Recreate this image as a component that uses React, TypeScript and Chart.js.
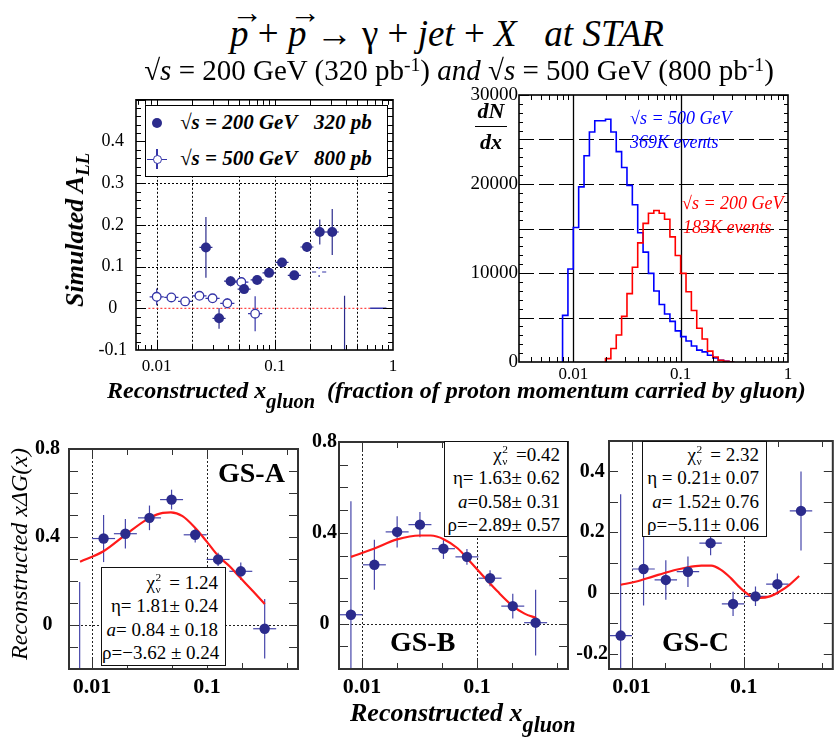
import React, { useEffect, useRef } from 'react';
import { Chart, registerables } from 'chart.js';

Chart.register(...registerables);

const SERIF = '"Liberation Serif", "Times New Roman", Times, serif';
const NAVY = '#2b2b8c';
const ERRC = '#4646aa';
const RED = '#ff1a1a';

// ---------- Top-left: simulated A_LL vs reconstructed x_gluon ----------
const ALL200_X = [0.0261, 0.0337, 0.0422, 0.0549, 0.0708, 0.0893, 0.115, 0.146, 0.187, 0.24, 0.306, 0.389];
const ALL200_Y = [0.146, -0.024, 0.065, 0.046, 0.068, 0.085, 0.11, 0.079, 0.147, 0.183, 0.183, -0.17];
const ALL200_ERR = [0.073, 0.025, 0.012, 0.01, 0.01, 0.01, 0.01, 0.01, 0.012, 0.03, 0.055, 0.2];
const ALL500_X = [0.01, 0.0133, 0.0174, 0.023, 0.0297, 0.0396, 0.052, 0.0681];
const ALL500_Y = [0.0276, 0.026, 0.0165, 0.03, 0.024, 0.012, 0.063, -0.013];
const ALL500_ERR = [0.02, 0.01, 0.01, 0.01, 0.01, 0.012, 0.012, 0.042];
const ALL500_NOMARK_X = [0.237];
const ALL500_NOMARK_Y = [0.087];
const ALL500_NOMARK_ERR = [0.012];
const ALL_ZERO_X = [0.0085, 0.64];
const ALL_TAIL_X = [0.64, 0.88];
const ALL_X_LABELS = [0.01, 0.1, 1];
const ALL_Y_LABELS = [-0.1, 0, 0.1, 0.2, 0.3, 0.4];

// ---------- Top-right: dN/dx histograms ----------
const HIST500_START = -2.1; // log10 of the first bin's low edge
const HIST200_START = -1.7;
const HIST_BIN = 0.05; // bin width in log10(x)
const HIST500 = [570, 5240, 10450, 15120, 19680, 23180, 25840, 27100, 27100, 27280, 25840, 23640, 21850, 19840, 17670, 14520, 12350, 9960, 7980, 6460, 5400, 4560, 3500, 2850, 2360, 1790, 1330, 1140, 760, 460, 190, 80];
const HIST200 = [80, 380, 1520, 3040, 5130, 7680, 10640, 13380, 15580, 16720, 17020, 16720, 16040, 14060, 11970, 9960, 7900, 5780, 3800, 2580, 1220, 570, 190, 80];
const HIST_X_LABELS = [0.01, 0.1, 1];
const HIST_Y_LABELS = [0, 10000, 20000, 30000];

// ---------- Bottom: reconstructed x*DeltaG(x) ----------
const GSA_X = [0.0078, 0.0126, 0.0195, 0.0316, 0.0492, 0.079, 0.125, 0.197, 0.318];
const GSA_Y = [-0.5, 0.393, 0.415, 0.487, 0.57, 0.41, 0.298, 0.244, -0.017];
const GSA_ERR = [0.696, 0.107, 0.067, 0.056, 0.045, 0.035, 0.03, 0.04, 0.135];
const GSA_FIT_X = [0.00786, 0.01256, 0.01954, 0.0316, 0.0413, 0.0485, 0.0613, 0.0795, 0.1, 0.126, 0.159, 0.1927, 0.2518, 0.3185];
const GSA_FIT_Y = [0.288, 0.335, 0.41, 0.487, 0.51, 0.512, 0.495, 0.44, 0.378, 0.313, 0.265, 0.218, 0.153, 0.095];

const GSB_X = [0.008, 0.0128, 0.0202, 0.0319, 0.0511, 0.0818, 0.13, 0.205, 0.324];
const GSB_Y = [0.039, 0.259, 0.404, 0.436, 0.33, 0.294, 0.2, 0.077, 0.004];
const GSB_ERR = [0.5, 0.11, 0.069, 0.056, 0.045, 0.035, 0.035, 0.055, 0.145];
const GSB_FIT_X = [0.00801, 0.01265, 0.0202, 0.0319, 0.0396, 0.0518, 0.0678, 0.0886, 0.1159, 0.1516, 0.1983, 0.2594, 0.328];
const GSB_FIT_Y = [0.294, 0.33, 0.371, 0.388, 0.388, 0.371, 0.332, 0.269, 0.204, 0.141, 0.084, 0.044, 0.025];

const GSC_X = [0.008, 0.0128, 0.0202, 0.0318, 0.0506, 0.0802, 0.127, 0.199, 0.323];
const GSC_Y = [-0.14, 0.079, 0.043, 0.07, 0.164, -0.036, -0.011, 0.029, 0.27];
const GSC_ERR = [0.465, 0.12, 0.065, 0.05, 0.04, 0.04, 0.032, 0.035, 0.13];
const GSC_FIT_X = [0.00802, 0.01105, 0.01543, 0.02154, 0.0301, 0.042, 0.0513, 0.0627, 0.0766, 0.0935, 0.1143, 0.1396, 0.1706, 0.2084, 0.2546, 0.311];
const GSC_FIT_Y = [0.027, 0.038, 0.054, 0.07, 0.083, 0.09, 0.09, 0.076, 0.049, 0.016, -0.009, -0.016, -0.011, 0.005, 0.027, 0.056];

const GS_X_LABELS = [0.01, 0.1];
const GSAB_Y_LABELS = [0, 0.4, 0.8];
const GSC_Y_LABELS = [-0.2, 0, 0.2, 0.4];

// ---------- helpers ----------
const pts = (xs: number[], ys: number[]) => xs.map((x, i) => ({ x, y: ys[i] }));

function logTicks(min: number, max: number, major: number, minor: number, mults: number[]) {
  const out: number[][] = [];
  for (let e = -4; e <= 1; e++) {
    for (let m = 1; m <= 9; m++) {
      const v = m * Math.pow(10, e);
      if (v < min * 0.999 || v > max * 1.001) continue;
      if (m === 1) out.push([v, major]);
      else if (mults.includes(m)) out.push([v, minor]);
    }
  }
  return out;
}
function linTicks(min: number, max: number, step: number, majorEvery: number, major: number, minor: number, midEvery = 0, mid = 0) {
  const out: number[][] = [];
  const n0 = Math.ceil(min / step - 1e-6);
  const n1 = Math.floor(max / step + 1e-6);
  for (let n = n0; n <= n1; n++) {
    const v = n * step;
    let len = minor;
    if (n % majorEvery === 0) len = major;
    else if (midEvery && n % midEvery === 0) len = mid;
    out.push([v, len]);
  }
  return out;
}

const rootFrame = {
  id: 'rootFrame',
  beforeDatasetsDraw(chart: any, _a: any, o: any) {
    const { ctx, chartArea: a } = chart;
    const xs = chart.scales.x;
    const ys = chart.scales.y;
    const seg = (x1: number, y1: number, x2: number, y2: number) => {
      ctx.beginPath();
      ctx.moveTo(x1, y1);
      ctx.lineTo(x2, y2);
      ctx.stroke();
    };
    ctx.save();
    ctx.beginPath();
    ctx.rect(a.left, a.top, a.right - a.left, a.bottom - a.top);
    ctx.clip();
    (o.grid || []).forEach((g: any) => {
      ctx.strokeStyle = g.color;
      ctx.lineWidth = g.width;
      ctx.setLineDash(g.dash || []);
      (g.x || []).forEach((v: number) => {
        const p = Math.round(xs.getPixelForValue(v)) + 0.5;
        seg(p, a.top, p, a.bottom);
      });
      (g.y || []).forEach((v: number) => {
        const p = Math.round(ys.getPixelForValue(v)) + 0.5;
        seg(a.left, p, a.right, p);
      });
    });
    ctx.setLineDash([]);
    chart.data.datasets.forEach((ds: any) => {
      if (!ds.yErr) return;
      ctx.strokeStyle = ds.errColor;
      ctx.lineWidth = ds.errWidth || 1.2;
      const gap = ds.errGap || 0;
      const f = Math.pow(10, ds.xErrDec || 0);
      ds.data.forEach((p: any, j: number) => {
        const cx = xs.getPixelForValue(p.x);
        const cy = ys.getPixelForValue(p.y);
        const t = ys.getPixelForValue(p.y + ds.yErr[j]);
        const b = ys.getPixelForValue(p.y - ds.yErr[j]);
        const l = xs.getPixelForValue(p.x / f);
        const r = xs.getPixelForValue(p.x * f);
        if (t < cy - gap) seg(cx, t, cx, cy - gap);
        if (b > cy + gap) seg(cx, cy + gap, cx, b);
        if (l < cx - gap) seg(l, cy, cx - gap, cy);
        if (r > cx + gap) seg(cx + gap, cy, r, cy);
      });
    });
    ctx.restore();
  },
  afterDraw(chart: any, _a: any, o: any) {
    const { ctx, chartArea: a } = chart;
    const xs = chart.scales.x;
    const ys = chart.scales.y;
    const seg = (x1: number, y1: number, x2: number, y2: number) => {
      ctx.beginPath();
      ctx.moveTo(x1, y1);
      ctx.lineTo(x2, y2);
      ctx.stroke();
    };
    ctx.save();
    ctx.strokeStyle = o.color || '#000';
    ctx.lineWidth = o.tickWidth || 1;
    (o.xTicks || []).forEach(([v, len]: number[]) => {
      const p = Math.round(xs.getPixelForValue(v)) + 0.5;
      if (p < a.left || p > a.right) return;
      seg(p, a.bottom, p, a.bottom - len);
      seg(p, a.top, p, a.top + len);
    });
    (o.yTicks || []).forEach(([v, len]: number[]) => {
      const p = Math.round(ys.getPixelForValue(v)) + 0.5;
      if (p < a.top || p > a.bottom) return;
      seg(a.left, p, a.left + len, p);
      seg(a.right, p, a.right - len, p);
    });
    ctx.lineWidth = o.frameWidth || 1.5;
    ctx.strokeRect(a.left, a.top, a.right - a.left, a.bottom - a.top);
    ctx.restore();
  },
};

function baseOptions(c: any) {
  return {
    responsive: false,
    maintainAspectRatio: false,
    animation: false,
    events: [],
    layout: { padding: { top: c.padTop, right: c.padRight, left: 0, bottom: 0 } },
    plugins: { legend: { display: false }, tooltip: { enabled: false }, rootFrame: c.frame },
    scales: {
      x: {
        type: 'logarithmic',
        bounds: 'data',
        min: c.xMin,
        max: c.xMax,
        grid: { display: false, drawTicks: false },
        border: { display: false },
        afterBuildTicks: (s: any) => {
          s.ticks = c.xLabels.map((v: number) => ({ value: v }));
        },
        ticks: {
          autoSkip: false,
          maxRotation: 0,
          padding: c.xPad,
          color: '#000',
          font: c.xFont,
          callback: (v: any) => String(v),
        },
        afterFit: (s: any) => {
          s.height = c.xAxisH;
        },
      },
      y: {
        type: 'linear',
        bounds: 'data',
        min: c.yMin,
        max: c.yMax,
        grid: { display: false, drawTicks: false },
        border: { display: false },
        afterBuildTicks: (s: any) => {
          s.ticks = c.yLabels.map((v: number) => ({ value: v }));
        },
        ticks: {
          autoSkip: false,
          padding: c.yPad,
          color: '#000',
          font: c.yFont,
          crossAlign: c.yAlign || 'near',
          callback: (v: any) => String(v),
        },
        afterFit: (s: any) => {
          s.width = c.yAxisW;
        },
      },
    },
  };
}

function errDS(xs: number[], ys: number[], errs: number[], extra: any) {
  return {
    type: 'scatter',
    data: pts(xs, ys),
    yErr: errs,
    errColor: ERRC,
    showLine: false,
    pointStyle: 'circle',
    ...extra,
  };
}

function histDS(start: number, counts: number[], color: string) {
  const edge = (i: number) => Math.pow(10, start + i * HIST_BIN);
  const data = [{ x: edge(0), y: 0 }, ...counts.map((c, i) => ({ x: edge(i), y: c })), { x: edge(counts.length), y: 0 }];
  return { type: 'line', data, stepped: 'after', borderColor: color, borderWidth: 1.6, pointRadius: 0, fill: false };
}

function fitDS(xs: number[], ys: number[]) {
  return {
    type: 'line',
    data: pts(xs, ys),
    borderColor: RED,
    borderWidth: 2.2,
    pointRadius: 0,
    cubicInterpolationMode: 'monotone',
    fill: false,
  };
}

function allConfig() {
  return {
    type: 'scatter',
    data: {
      datasets: [
        errDS(ALL200_X, ALL200_Y, ALL200_ERR, {
          xErrDec: 0.055, pointRadius: 5, backgroundColor: NAVY, borderColor: NAVY, borderWidth: 0, errColor: NAVY,
        }),
        errDS(ALL500_X, ALL500_Y, ALL500_ERR, {
          xErrDec: 0.06, pointRadius: 4.3, backgroundColor: '#ffffff', borderColor: '#3535a8', borderWidth: 1.3, errGap: 4.3, errColor: '#3535a8',
        }),
        errDS(ALL500_NOMARK_X, ALL500_NOMARK_Y, ALL500_NOMARK_ERR, {
          xErrDec: 0.06, pointRadius: 0, errGap: 3, errColor: '#3535a8',
        }),
        { type: 'line', data: pts(ALL_TAIL_X, [0, 0]), borderColor: '#3535a8', borderWidth: 1.5, pointRadius: 0 },
        { type: 'line', data: pts(ALL_ZERO_X, [0, 0]), borderColor: RED, borderWidth: 1, borderDash: [2, 2], pointRadius: 0 },
      ],
    },
    options: baseOptions({
      padTop: 15, padRight: 12, xAxisH: 35, yAxisW: 86,
      xMin: 0.00668, xMax: 1, yMin: -0.1, yMax: 0.5,
      xLabels: ALL_X_LABELS, yLabels: ALL_Y_LABELS,
      xPad: 6, yPad: 9, yAlign: 'center',
      xFont: { family: SERIF, size: 17 }, yFont: { family: SERIF, size: 18 },
      frame: {
        grid: [{ x: [0.01, 0.02, 0.05, 0.1, 0.2, 0.5], y: [0.1, 0.2, 0.3, 0.4], color: '#000', width: 1, dash: [2, 2] }],
        xTicks: logTicks(0.00668, 1, 10, 5, [2, 3, 4, 5, 6, 7, 8, 9]),
        yTicks: linTicks(-0.1, 0.5, 0.02, 5, 10, 5),
        frameWidth: 1.6,
      },
    }),
    plugins: [rootFrame],
  };
}

function histConfig() {
  return {
    type: 'scatter',
    data: {
      datasets: [histDS(HIST200_START, HIST200, '#ff0000'), histDS(HIST500_START, HIST500, '#0000ff')],
    },
    options: baseOptions({
      padTop: 15, padRight: 12, xAxisH: 23, yAxisW: 79,
      xMin: 0.00312, xMax: 1, yMin: 0, yMax: 30000,
      xLabels: HIST_X_LABELS, yLabels: HIST_Y_LABELS,
      xPad: 2, yPad: 1, yAlign: 'near',
      xFont: { family: SERIF, size: 17 }, yFont: { family: SERIF, size: 19 },
      frame: {
        grid: [
          { x: [0.01, 0.1], color: '#000', width: 1.3, dash: [] },
          { y: [5000, 10000, 15000, 20000, 25000], color: '#000', width: 1, dash: [15, 5] },
        ],
        xTicks: logTicks(0.00312, 1, 10, 5, [2, 3, 4, 5, 6, 7, 8, 9]),
        yTicks: linTicks(0, 30000, 1000, 10, 10, 4, 5, 7),
        frameWidth: 1.6,
      },
    }),
    plugins: [rootFrame],
  };
}

function gsConfig(xs: number[], ys: number[], es: number[], fx: number[], fy: number[], yMin: number, yMax: number, yLabels: number[], yPad: number, padRight: number) {
  return {
    type: 'scatter',
    data: {
      datasets: [
        errDS(xs, ys, es, { xErrDec: 0.1, pointRadius: 5.2, backgroundColor: NAVY, borderColor: NAVY, borderWidth: 0 }),
        fitDS(fx, fy),
      ],
    },
    options: baseOptions({
      padTop: 13, padRight, xAxisH: 36, yAxisW: 49,
      xMin: 0.0063, xMax: 0.62, yMin, yMax,
      xLabels: GS_X_LABELS, yLabels,
      xPad: 5, yPad, yAlign: 'center',
      xFont: { family: SERIF, size: 22, weight: 'bold' }, yFont: { family: SERIF, size: 20, weight: 'bold' },
      frame: {
        grid: [{ x: [0.01, 0.1], y: [0], color: '#222', width: 1, dash: [2, 2] }],
        xTicks: logTicks(0.0063, 0.62, 10, 6, [2, 5]),
        yTicks: linTicks(yMin, yMax, 0.1, 100, 9, 9),
        frameWidth: 2,
        color: '#333',
      },
    }),
    plugins: [rootFrame],
  };
}

function ChartCanvas({ left, top, width, height, build }: any) {
  const ref = useRef<HTMLCanvasElement>(null);
  useEffect(() => {
    const chart = new Chart(ref.current as any, build() as any);
    return () => chart.destroy();
  }, []);
  return <canvas ref={ref} width={width} height={height} style={{ position: 'absolute', left, top, width, height }} />;
}

// text placed by its baseline
function T({ x, y, size, children, anchor = 'start', style = {} }: any) {
  const tx = anchor === 'middle' ? 'translateX(-50%)' : anchor === 'end' ? 'translateX(-100%)' : undefined;
  return (
    <div style={{ position: 'absolute', left: x, top: y - 0.8375 * size, fontSize: size, lineHeight: `${size}px`, whiteSpace: 'nowrap', transform: tx, ...style }}>
      {children}
    </div>
  );
}
// text rotated -90deg around the centre of its box
function R({ cx, cy, size, children, style = {} }: any) {
  return (
    <div style={{ position: 'absolute', left: cx, top: cy, fontSize: size, lineHeight: `${size}px`, whiteSpace: 'nowrap', transform: 'translate(-50%, -50%) rotate(-90deg)', ...style }}>
      {children}
    </div>
  );
}
const Sup = ({ children }: any) => <span style={{ position: 'relative', top: '-0.45em', fontSize: '0.68em' }}>{children}</span>;
const Sub = ({ children, d = '0.4em', s = '0.75em' }: any) => <span style={{ position: 'relative', top: d, fontSize: s }}>{children}</span>;
const Vec = ({ children }: any) => (
  <span style={{ position: 'relative', fontStyle: 'italic' }}>
    {children}
    <span style={{ position: 'absolute', left: '0.05em', top: '-0.62em', fontStyle: 'normal', fontSize: '0.85em' }}>→</span>
  </span>
);
const Chi = () => (
  <span>
    χ
    <span style={{ position: 'relative' }}>
      <span style={{ position: 'absolute', left: '0.05em', top: '-0.5em', fontSize: '0.6em' }}>2</span>
      <span style={{ position: 'absolute', left: '0.05em', top: '0.55em', fontSize: '0.6em' }}>ν</span>
      {'\u00a0\u00a0'}
    </span>
  </span>
);

function FitBox({ left, top, width, height, padTop, lines }: any) {
  return (
    <div style={{ position: 'absolute', left, top, width, height, boxSizing: 'border-box', border: '1.5px solid #111', background: '#fff', textAlign: 'right', paddingRight: 7, paddingTop: padTop, fontSize: 19, lineHeight: '23.3px', whiteSpace: 'nowrap' }}>
      {lines.map((l: any, i: number) => (
        <div key={i}>{l}</div>
      ))}
    </div>
  );
}

export default function App() {
  const bi = { fontWeight: 'bold', fontStyle: 'italic' } as any;
  return (
    <div style={{ position: 'absolute', left: 0, top: 0, width: 838, height: 742, background: '#fff', overflow: 'hidden', fontFamily: SERIF, color: '#000' }}>
      <ChartCanvas left={50} top={80} width={355} height={305} build={allConfig} />
      <ChartCanvas left={440} top={80} width={360} height={305} build={histConfig} />
      <ChartCanvas left={20} top={428} width={295} height={277} build={() => gsConfig(GSA_X, GSA_Y, GSA_ERR, GSA_FIT_X, GSA_FIT_Y, -0.2, 0.8, GSAB_Y_LABELS, 9, 17)} />
      <ChartCanvas left={290} top={428} width={295} height={277} build={() => gsConfig(GSB_X, GSB_Y, GSB_ERR, GSB_FIT_X, GSB_FIT_Y, -0.2, 0.8, GSAB_Y_LABELS, 2, 17)} />
      <ChartCanvas left={560} top={428} width={278} height={277} build={() => gsConfig(GSC_X, GSC_Y, GSC_ERR, GSC_FIT_X, GSC_FIT_Y, -0.25, 0.5, GSC_Y_LABELS, 1, 1)} />

      {/* titles */}
      <T x={447} y={46} size={37} anchor="middle">
        <Vec>p</Vec> + <Vec>p</Vec> → γ + <i>jet</i> + <i>X</i>{'\u00a0\u00a0 '}<i>at STAR</i>
      </T>
      <T x={459} y={80} size={29} anchor="middle">
        √<i>s</i> = 200 GeV (320 pb<Sup>-1</Sup>) <i>and</i> √<i>s</i> = 500 GeV (800 pb<Sup>-1</Sup>)
      </T>

      {/* top-left legend */}
      <div style={{ position: 'absolute', left: 145, top: 105, width: 243, height: 72, boxSizing: 'border-box', border: '1.5px solid #000', background: '#fff' }} />
      <div style={{ position: 'absolute', left: 152, top: 118, width: 10, height: 10, borderRadius: '50%', background: NAVY }} />
      <div style={{ position: 'absolute', left: 147, top: 158.5, width: 20, height: 1.2, background: '#3535a8' }} />
      <div style={{ position: 'absolute', left: 156.4, top: 149, width: 1.2, height: 20, background: '#3535a8' }} />
      <div style={{ position: 'absolute', left: 152.5, top: 154.5, width: 9, height: 9, boxSizing: 'border-box', borderRadius: '50%', border: '1.3px solid #3535a8', background: '#fff' }} />
      <T x={180} y={130} size={21} style={bi}>√<i>s</i> = 200 GeV</T>
      <T x={314} y={130} size={21} style={bi}>320 pb</T>
      <T x={180} y={166} size={21} style={bi}>√<i>s</i> = 500 GeV</T>
      <T x={314} y={166} size={21} style={bi}>800 pb</T>

      {/* top-left axis titles */}
      <R cx={76} cy={230} size={26} style={bi}>
        Simulated A<Sub d="0.3em" s="0.72em">LL</Sub>
      </R>
      <T x={107} y={398} size={24} style={bi}>
        Reconstructed x<Sub d="0.5em" s="0.85em">gluon</Sub>{'\u00a0\u00a0'}(fraction of proton momentum carried by gluon)
      </T>

      {/* top-right annotations */}
      <div style={{ position: 'absolute', left: 491, top: 100, transform: 'translateX(-50%)', textAlign: 'center', fontWeight: 'bold', fontStyle: 'italic', fontSize: 22, lineHeight: '22px' }}>
        <div style={{ paddingBottom: 4 }}>dN</div>
        <div style={{ borderTop: '1.6px solid #000', paddingTop: 4, width: 32 }}>dx</div>
      </div>
      <T x={630} y={124} size={18} style={{ color: '#0000ff', fontStyle: 'italic' }}>√s = 500 GeV</T>
      <T x={630} y={148} size={18} style={{ color: '#0000ff', fontStyle: 'italic' }}>369K events</T>
      <T x={682} y={209} size={18} style={{ color: '#ff0000', fontStyle: 'italic' }}>√s = 200 GeV</T>
      <T x={683} y={233} size={18} style={{ color: '#ff0000', fontStyle: 'italic' }}>183K events</T>

      {/* bottom panels */}
      <FitBox left={101} top={567} width={125} height={99} padTop={3} lines={[
        <span><Chi /> = 1.24</span>,
        <span>η= 1.81± 0.24</span>,
        <span><i>a</i>= 0.84 ± 0.18</span>,
        <span>ρ=−3.62 ± 0.24</span>,
      ]} />
      <FitBox left={444} top={441} width={124} height={96} padTop={1} lines={[
        <span><Chi /> =0.42</span>,
        <span>η= 1.63± 0.62</span>,
        <span><i>a</i>=0.58± 0.31</span>,
        <span>ρ=−2.89± 0.57</span>,
      ]} />
      <FitBox left={642} top={441} width={125} height={96} padTop={1} lines={[
        <span><Chi /> = 2.32</span>,
        <span>η = 0.21± 0.07</span>,
        <span><i>a</i>= 1.52± 0.76</span>,
        <span>ρ=−5.11± 0.06</span>,
      ]} />
      <T x={218} y={482} size={28} style={{ fontWeight: 'bold' }}>GS-A</T>
      <T x={390} y={651} size={28} style={{ fontWeight: 'bold' }}>GS-B</T>
      <T x={662} y={651} size={28} style={{ fontWeight: 'bold' }}>GS-C</T>

      <R cx={19} cy={554} size={24} style={{ fontStyle: 'italic' }}>
        Reconstructed xΔG(x)
      </R>
      <T x={350} y={722} size={26} style={bi}>
        Reconstructed x<Sub d="0.5em" s="0.85em">gluon</Sub>
      </T>
    </div>
  );
}
